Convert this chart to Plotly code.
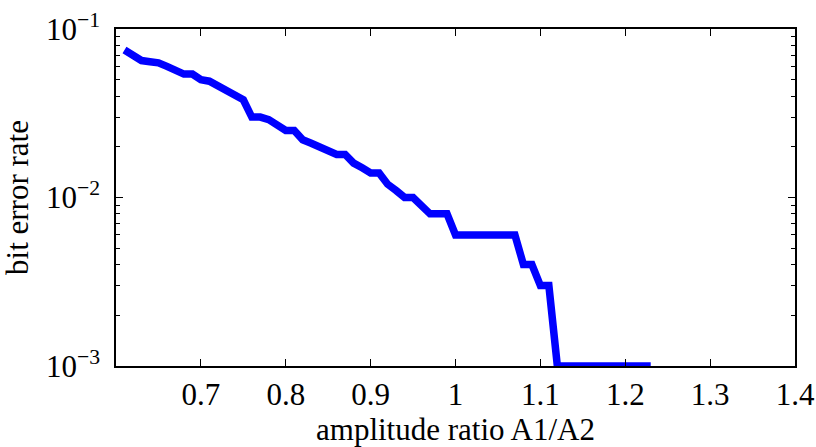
import plotly.graph_objects as go

# amplitude ratio A1/A2 (x) and bit error rate (y)
amp_ratio = [round(0.61 + 0.01 * i, 2) for i in range(63)]
ber = [
    0.075, 0.069, 0.065, 0.064, 0.063, 0.060, 0.057, 0.054, 0.054, 0.050,
    0.049, 0.046, 0.043, 0.040, 0.038, 0.030, 0.030, 0.029, 0.027, 0.025,
    0.025, 0.022, 0.021, 0.020, 0.019, 0.018, 0.018, 0.016, 0.015, 0.014,
    0.014, 0.012, 0.011, 0.010, 0.010, 0.009, 0.008, 0.008, 0.008, 0.006,
    0.006, 0.006, 0.006, 0.006, 0.006, 0.006, 0.006, 0.004, 0.004, 0.003,
    0.003, 0.001, 0.001, 0.001, 0.001, 0.001, 0.001, 0.001, 0.001, 0.001,
    0.001, 0.001, 0.001,
]
x_ticks = [0.7, 0.8, 0.9, 1.0, 1.1, 1.2, 1.3, 1.4]
x_ticktext = ["0.7", "0.8", "0.9", "1", "1.1", "1.2", "1.3", "1.4"]
y_ticks = [1e-3, 1e-2, 1e-1]
y_ticktext = ["10<sup>\u22123</sup>", "10<sup>\u22122</sup>", "10<sup>\u22121</sup>"]
y_minor = [k * 10.0 ** e for e in (-3, -2) for k in range(2, 10)]

FONT = "Liberation Serif"
FS = 31

fig = go.Figure()
fig.add_trace(go.Scatter(
    x=amp_ratio, y=ber, mode="lines",
    line=dict(color="#0000FF", width=7.5),
    showlegend=False, hoverinfo="skip",
))

fig.update_layout(
    width=816, height=447,
    margin=dict(l=116, r=21, t=29, b=81),
    paper_bgcolor="white", plot_bgcolor="white",
    font=dict(family=FONT, size=FS, color="black"),
)
fig.update_xaxes(
    range=[0.6, 1.4], automargin=False,
    tickmode="array", tickvals=x_ticks, ticktext=x_ticktext,
    tickfont=dict(family=FONT, size=FS),
    ticks="inside", ticklen=7, tickwidth=1, tickcolor="black",
    showline=True, linecolor="black", linewidth=1.5, mirror="allticks",
    showgrid=False, zeroline=False,
    title=dict(text="amplitude ratio A1/A2", standoff=2,
               font=dict(family=FONT, size=FS)),
)
fig.update_yaxes(
    type="log", range=[-3, -1], automargin=False,
    tickmode="array", tickvals=y_ticks, ticktext=y_ticktext,
    tickfont=dict(family=FONT, size=FS),
    ticks="inside", ticklen=7, tickwidth=1, tickcolor="black",
    minor=dict(tickmode="array", tickvals=y_minor, ticks="inside", ticklen=4,
               tickwidth=1, tickcolor="black", showgrid=False),
    showline=True, linecolor="black", linewidth=1.5, mirror="allticks",
    showgrid=False, zeroline=False,
    ticklabelstandoff=8,
    title=dict(text="bit error rate", standoff=8,
               font=dict(family=FONT, size=FS)),
)

fig.write_html("out.html")
